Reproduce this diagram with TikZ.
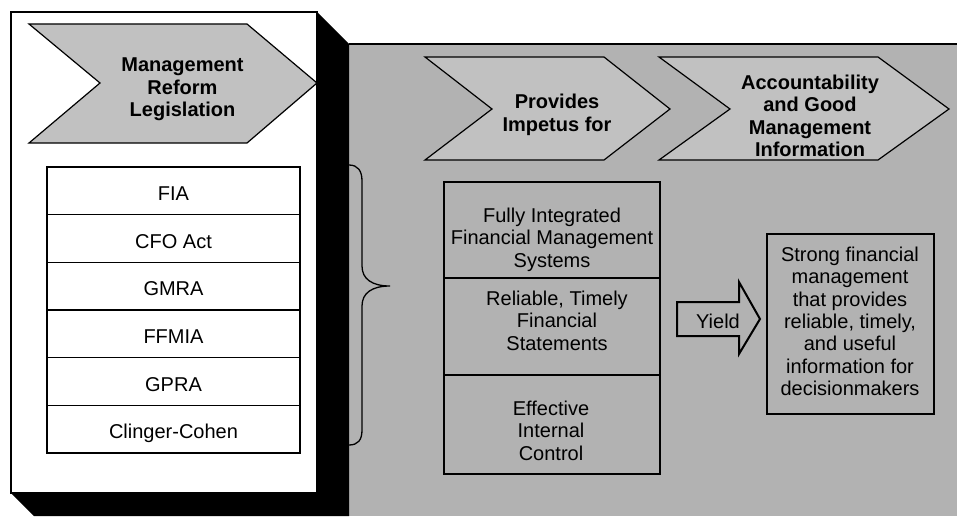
\documentclass[tikz,border=0pt]{standalone}
\usepackage{fontspec}
\setmainfont{Liberation Sans}
\definecolor{bggray}{gray}{0.70}
\definecolor{chevgray}{gray}{0.755}
\begin{document}
\begin{tikzpicture}[x=1pt,y=-1pt,
  txt/.style={font=\fontsize{20}{22.4}\selectfont, inner sep=0pt, align=center},
  btxt/.style={font=\fontsize{20}{22.4}\selectfont\bfseries, inner sep=0pt, align=center},
  chev/.style={draw=black, line width=1.2pt, fill=chevgray, line join=miter},
  rowbox/.style={draw=black, line width=1.5pt, minimum width=253pt, minimum height=47.67pt,
    inner sep=0pt, font=\fontsize{20}{22.4}\selectfont, text height=19.4pt, text depth=0pt},
  midbox/.style={draw=black, line width=1.8pt, minimum width=216pt, inner sep=0pt},
]
\useasboundingbox (0,0) rectangle (957,516);
\fill[white] (0,0) rectangle (957,516);
% gray panel
\fill[bggray] (349,44) rectangle (957,516);
\draw[line width=2pt] (349,44) -- (957,44);
% black extrusion of the white panel
\fill[black] (317,12) -- (349,44) -- (349,516) -- (34,516) -- (11,493) -- (317,493) -- cycle;
% white panel
\draw[line width=1.5pt, fill=white] (11,12) rectangle (317,493);

% chevrons
\draw[chev] (29,24) -- (247,24) -- (317,83) -- (247,143) -- (29,143) -- (100,83) -- cycle;
\node[btxt, anchor=north] (mrl) at (182.5,58) {Management\\Reform\\Legislation};

\draw[chev] (425,57) -- (604,57) -- (670,109) -- (604,160) -- (425,160) -- (492,109) -- cycle;
\node[btxt, anchor=north] (pif) at (557,94) {Provides\\Impetus for};

\draw[chev] (659,57) -- (878,57) -- (949,109) -- (878,160) -- (659,160) -- (730,109) -- cycle;
\node[btxt, anchor=north] (agm) at (810,74.6) {Accountability\\and Good\\Management\\Information};

% list of laws
\node[rowbox] (fia)  at (173.5,190.8) {FIA};
\node[rowbox] (cfo)  at (173.5,238.5) {CFO Act};
\node[rowbox] (gmra) at (173.5,286.2) {GMRA};
\node[rowbox] (ffm)  at (173.5,333.8) {FFMIA};
\node[rowbox] (gpra) at (173.5,381.5) {GPRA};
\node[rowbox] (cc)   at (173.5,429.2) {Clinger-Cohen};

% brace
\draw[line width=1.3pt] (349,165) .. controls (358,165) and (362,171) .. (362,181)
  -- (362,266) .. controls (362,279) and (372,286) .. (390,286)
  .. controls (372,286) and (362,293) .. (362,306)
  -- (362,430) .. controls (362,440) and (358,445) .. (349,445);

% middle stack
\node[midbox, minimum height=96pt] (b1) at (552,230) {};
\node[midbox, minimum height=97pt] (b2) at (552,326.5) {};
\node[midbox, minimum height=99pt] (b3) at (552,424.5) {};
\node[txt, anchor=north] (t1) at (552,207.6) {Fully Integrated\\Financial Management\\Systems};
\node[txt, anchor=north] (t2) at (557,290.6) {Reliable, Timely\\Financial\\Statements};
\node[txt, anchor=north] (t3) at (551,400.6) {Effective\\Internal\\Control};

% yield arrow
\draw[line width=2pt, line join=miter] (677,302) -- (739,302) -- (739,282) -- (760,319)
  -- (739,354) -- (739,336) -- (677,336) -- cycle;
\node[txt, anchor=base] (yl) at (718,328) {Yield};

% result box
\node[draw=black, line width=1.8pt, minimum width=167pt, minimum height=180pt, inner sep=0pt] (res) at (850.5,324) {};
\node[txt, anchor=north] (rt) at (850,246.6) {Strong financial\\management\\that provides\\reliable, timely,\\and useful\\information for\\decisionmakers};
\end{tikzpicture}
\end{document}
